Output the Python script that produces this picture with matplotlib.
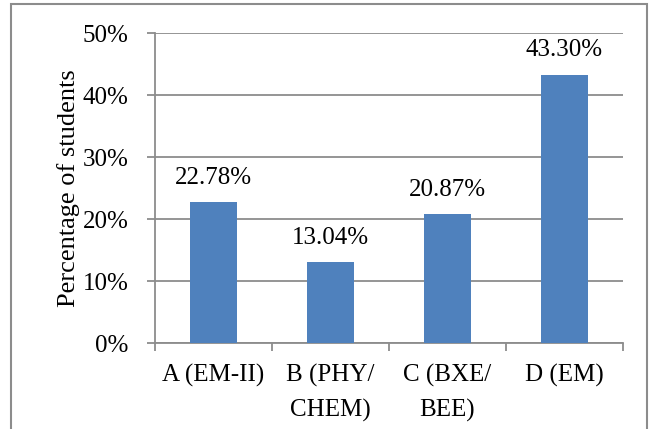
import numpy as np
import matplotlib
matplotlib.use("Agg")
import matplotlib.pyplot as plt
from matplotlib.patches import Rectangle
from matplotlib.ticker import PercentFormatter

# data
categories = ["A (EM-II)", "B (PHY/\nCHEM)", "C (BXE/\nBEE)", "D (EM)"]
values = [22.78, 13.04, 20.87, 43.30]
yticks = [0, 10, 20, 30, 40, 50]

plt.rcParams["font.family"] = ["Liberation Serif", "DejaVu Serif"]
plt.rcParams["font.size"] = 18

bar_color = "#4F81BD"
grey = "#8C8C8C"

fig = plt.figure(figsize=(6.58, 4.29), dpi=100)
ax = fig.add_axes([155/658, 1-343/429, 468/658, 310/429])

x = np.arange(len(categories))
ax.bar(x, values, width=0.4, color=bar_color, zorder=3)
for xi, v in zip(x, values):
    ax.annotate(f"{v:.2f}%", (xi, v), xytext=(0, 13), textcoords="offset points",
                ha="center", va="baseline")

ax.set_xlim(-0.5, len(categories) - 0.5)
ax.set_ylim(0, 50)
ax.set_yticks(yticks)
ax.yaxis.set_major_formatter(PercentFormatter(decimals=0))
ax.grid(axis="y", color=grey, lw=1.3, zorder=0)

ax.set_xticks(x)
ax.set_xticklabels(categories, linespacing=1.7)
ax.tick_params(axis="x", length=0, pad=15)
ax.set_xticks(np.arange(-0.5, len(categories)), minor=True)
ax.tick_params(axis="x", which="minor", length=6, color=grey, width=1.3)
ax.tick_params(axis="y", length=6, color=grey, width=1.3, pad=13)

for s in ["top", "right"]:
    ax.spines[s].set_visible(False)
for s in ["left", "bottom"]:
    ax.spines[s].set_color(grey)
    ax.spines[s].set_linewidth(1.3)

ax.set_ylabel("Percentage of students", fontsize=19, labelpad=2)

# outer chart frame
fig.patches.append(Rectangle((11/658, -0.05), 636/658, 1.05 - 4/429,
                             transform=fig.transFigure, fill=False,
                             edgecolor=grey, lw=1.5))

fig.savefig("out.png", dpi=100)
